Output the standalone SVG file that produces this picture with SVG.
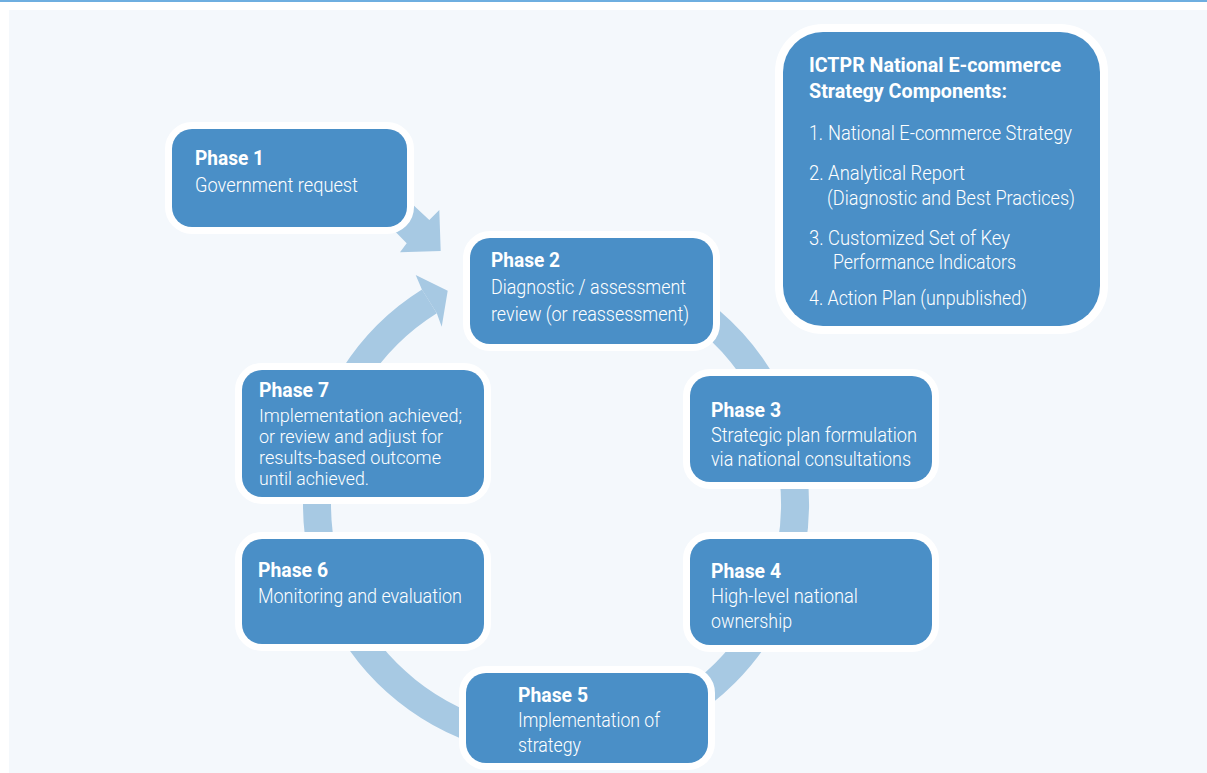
<svg xmlns="http://www.w3.org/2000/svg" width="1207" height="773" viewBox="0 0 1207 773">
<style>
.box{fill:#4a8fc7;stroke:#ffffff;stroke-width:14;paint-order:stroke}
.t{font-family:Roboto,"Liberation Sans",sans-serif;fill:#ffffff;font-size:20px;font-weight:700}
.b{font-family:Roboto,"Liberation Sans",sans-serif;fill:#ffffff;font-size:21px;font-weight:300}
.s{font-size:19px}
.ring{fill:none;stroke:#a7c9e3;stroke-width:28}
.ah{fill:#a7c9e3}
</style>
<rect x="0" y="0" width="1207" height="773" fill="#ffffff"/>
<rect x="0" y="0" width="1207" height="2" fill="#6eaee0"/>
<rect x="9" y="10" width="1198" height="763" fill="#f4f8fc"/>
<g id="connectors">
<path class="ring" d="M 556 265 A 239 239 0 1 1 429.4 301.3"/>
<polygon class="ah" points="421.9,289.4 415.7,275 447.7,290.7 441.7,326.7 436.8,313.2"/>
<polygon class="ah" points="395,188 429.3,220 439.3,210 440.7,251 400,252.3 406.7,243.3 380,216"/>
</g>
<g id="phase1">
<rect class="box" x="172" y="129" width="235" height="98" rx="20"/>
<text class="t" x="195" y="165" textLength="69" lengthAdjust="spacingAndGlyphs">Phase 1</text>
<text class="b" x="195" y="192" textLength="163" lengthAdjust="spacingAndGlyphs">Government request</text>
</g>
<g id="phase2">
<rect class="box" x="470" y="238" width="243" height="106" rx="20"/>
<text class="t" x="491" y="267" textLength="69" lengthAdjust="spacingAndGlyphs">Phase 2</text>
<text class="b" x="491" y="294" textLength="195" lengthAdjust="spacingAndGlyphs">Diagnostic / assessment</text>
<text class="b" x="491" y="321" textLength="198" lengthAdjust="spacingAndGlyphs">review (or reassessment)</text>
</g>
<g id="phase3">
<rect class="box" x="690" y="376" width="242" height="106" rx="20"/>
<text class="t" x="711" y="417" textLength="70" lengthAdjust="spacingAndGlyphs">Phase 3</text>
<text class="b" x="711" y="442" textLength="206" lengthAdjust="spacingAndGlyphs">Strategic plan formulation</text>
<text class="b" x="711" y="466" textLength="200" lengthAdjust="spacingAndGlyphs">via national consultations</text>
</g>
<g id="phase4">
<rect class="box" x="690" y="539" width="242" height="106" rx="20"/>
<text class="t" x="711" y="578" textLength="70" lengthAdjust="spacingAndGlyphs">Phase 4</text>
<text class="b" x="711" y="603" textLength="147" lengthAdjust="spacingAndGlyphs">High-level national</text>
<text class="b" x="711" y="628" textLength="81" lengthAdjust="spacingAndGlyphs">ownership</text>
</g>
<g id="phase5">
<rect class="box" x="466" y="673" width="242" height="90" rx="20"/>
<text class="t" x="518" y="702" textLength="70" lengthAdjust="spacingAndGlyphs">Phase 5</text>
<text class="b" x="518" y="727" textLength="142" lengthAdjust="spacingAndGlyphs">Implementation of</text>
<text class="b" x="518" y="752" textLength="63" lengthAdjust="spacingAndGlyphs">strategy</text>
</g>
<g id="phase6">
<rect class="box" x="242" y="539" width="242" height="105" rx="20"/>
<text class="t" x="258" y="577" textLength="70" lengthAdjust="spacingAndGlyphs">Phase 6</text>
<text class="b" x="258" y="603" textLength="204" lengthAdjust="spacingAndGlyphs">Monitoring and evaluation</text>
</g>
<g id="phase7">
<rect class="box" x="242" y="370" width="242" height="127" rx="20"/>
<text class="t" x="259" y="397" textLength="70" lengthAdjust="spacingAndGlyphs">Phase 7</text>
<text class="b s" x="259" y="422" textLength="203" lengthAdjust="spacingAndGlyphs">Implementation achieved;</text>
<text class="b s" x="259" y="443" textLength="184" lengthAdjust="spacingAndGlyphs">or review and adjust for</text>
<text class="b s" x="259" y="464" textLength="182" lengthAdjust="spacingAndGlyphs">results-based outcome</text>
<text class="b s" x="259" y="485" textLength="110" lengthAdjust="spacingAndGlyphs">until achieved.</text>
</g>
<g id="components">
<rect class="box" x="783" y="32" width="317" height="294" rx="40" style="stroke-width:16"/>
<text class="t" x="809" y="72" textLength="252" lengthAdjust="spacingAndGlyphs">ICTPR National E-commerce</text>
<text class="t" x="809" y="98" textLength="198" lengthAdjust="spacingAndGlyphs">Strategy Components:</text>
<text class="b" x="809" y="140" textLength="14" lengthAdjust="spacingAndGlyphs">1.</text>
<text class="b" x="828" y="140" textLength="244" lengthAdjust="spacingAndGlyphs">National E-commerce Strategy</text>
<text class="b" x="809" y="180" textLength="156" lengthAdjust="spacingAndGlyphs">2. Analytical Report</text>
<text class="b" x="827" y="205" textLength="248" lengthAdjust="spacingAndGlyphs">(Diagnostic and Best Practices)</text>
<text class="b" x="809" y="245" textLength="201" lengthAdjust="spacingAndGlyphs">3. Customized Set of Key</text>
<text class="b" x="833" y="269" textLength="183" lengthAdjust="spacingAndGlyphs">Performance Indicators</text>
<text class="b" x="809" y="305" textLength="218" lengthAdjust="spacingAndGlyphs">4. Action Plan (unpublished)</text>
</g>
</svg>
